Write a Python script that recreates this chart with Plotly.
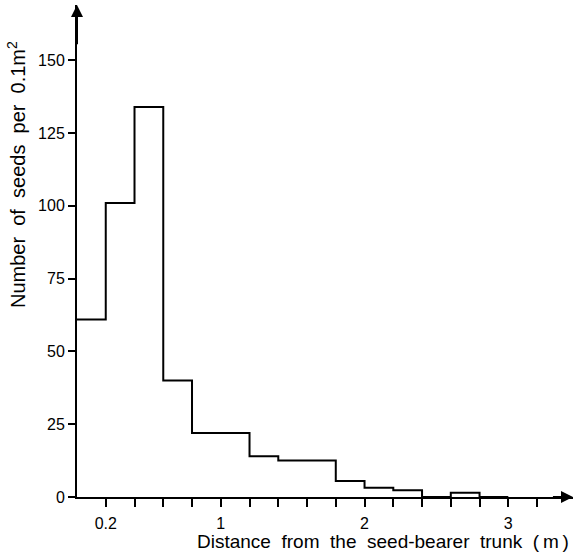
import plotly.graph_objects as go

# Data (bin left edges in m, seeds per 0.1 m^2)
bin_left = [0.0, 0.2, 0.4, 0.6, 0.8, 1.0, 1.2, 1.4, 1.6, 1.8, 2.0, 2.2, 2.4, 2.6, 2.8]
counts = [61, 101, 134, 40, 22, 22, 14, 12.5, 12.5, 5.5, 3.2, 2.3, 0, 1.5, 0]
bin_width = 0.2

x_tickvals = [round(0.2 * i, 1) for i in range(1, 17)]
x_ticklabels = {0.2: "0.2", 1.0: "1", 2.0: "2", 3.0: "3"}
y_tickvals = [0, 25, 50, 75, 100, 125, 150]

x_edges = bin_left + [bin_left[-1] + bin_width]
y_steps = counts + [counts[-1]]

FONT = "Liberation Sans"

fig = go.Figure()
fig.add_trace(go.Scatter(
    x=x_edges, y=y_steps, mode="lines", line=dict(shape="hv", color="black", width=2),
    hoverinfo="skip", showlegend=False))

fig.update_layout(
    template="none",
    width=575, height=555,
    margin=dict(l=77, r=2, t=5, b=58, autoexpand=False),
    paper_bgcolor="white", plot_bgcolor="white",
    font=dict(family=FONT, color="black", size=16),
    xaxis=dict(range=[0, 3.45], showgrid=False, zeroline=False, showline=True,
               automargin=False,
               linecolor="black", linewidth=2, ticks="outside", ticklen=8,
               tickwidth=1.5, tickcolor="black", ticklabelstandoff=3,
               tickvals=x_tickvals,
               ticktext=[x_ticklabels.get(v, "") for v in x_tickvals],
               tickfont=dict(size=16, family=FONT)),
    yaxis=dict(range=[0, 169], showgrid=False, zeroline=False, showline=True,
               automargin=False,
               linecolor="black", linewidth=2, ticks="outside", ticklen=7,
               tickwidth=1.5, tickcolor="black", tickvals=y_tickvals,
               tickfont=dict(size=16, family=FONT)),
)

# axis arrows
fig.add_annotation(x=3.45, y=0, ax=3.3, ay=0, xref="x", yref="y", axref="x", ayref="y",
                   text="", showarrow=True, arrowhead=2, arrowsize=1.2, arrowwidth=2,
                   arrowcolor="black")
fig.add_annotation(x=0, y=169, ax=0, ay=155, xref="x", yref="y", axref="x", ayref="y",
                   text="", showarrow=True, arrowhead=2, arrowsize=1.2, arrowwidth=2,
                   arrowcolor="black")

# axis titles
fig.add_annotation(text="Distance\u00a0 from\u00a0 the\u00a0 seed-bearer\u00a0 trunk\u00a0 (\u2009m\u2009)",
                   xref="paper", yref="paper", x=(383 - 77) / 496, y=(497 - 541) / 492,
                   xanchor="center", yanchor="middle", showarrow=False,
                   font=dict(size=19, family=FONT))
fig.add_annotation(text="Number\u00a0 of\u00a0 seeds\u00a0 per\u00a0 0.1m<sup>2</sup>",
                   xref="paper", yref="paper", x=(16 - 77) / 496, y=(497 - 175) / 492,
                   xanchor="center", yanchor="middle", textangle=-90, showarrow=False,
                   font=dict(size=20, family=FONT))

fig.write_html("out.html", post_script="document.body.style.margin='0px';",
               config={"displayModeBar": False})
